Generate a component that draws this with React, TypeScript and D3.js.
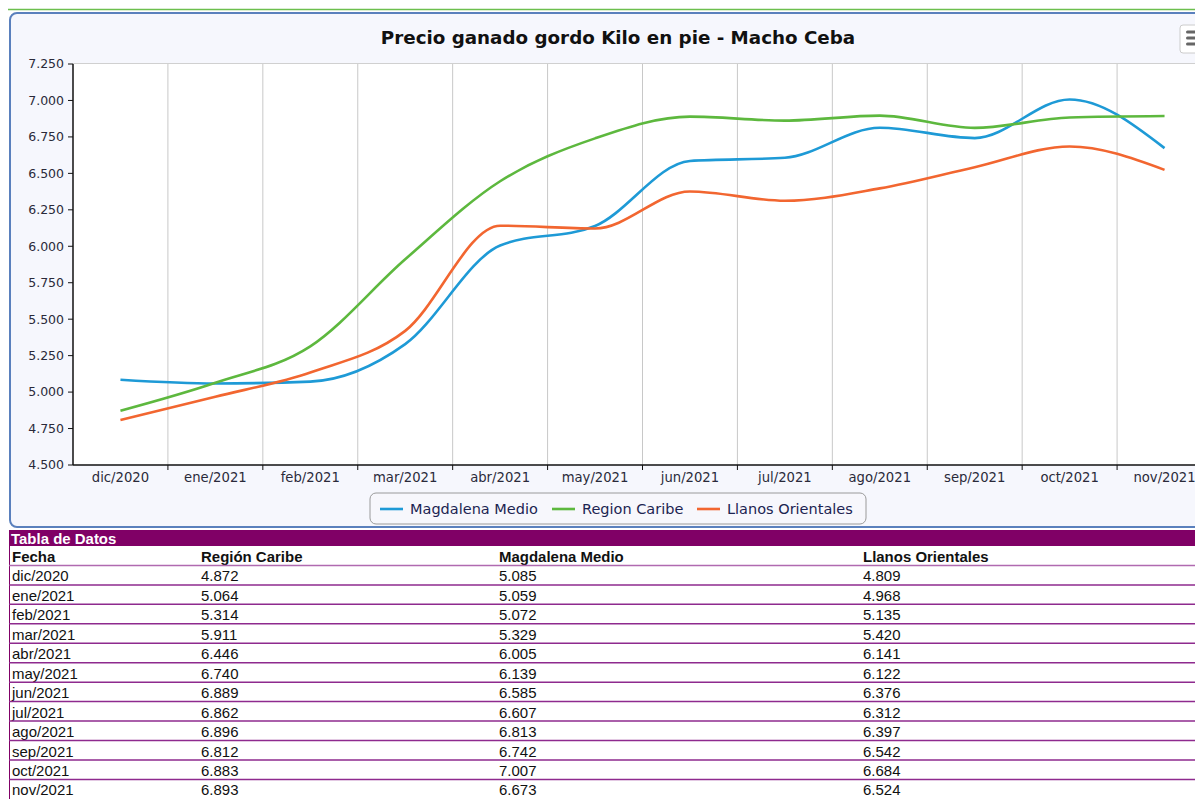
import * as d3 from "d3";

const months = [
  "dic/2020", "ene/2021", "feb/2021", "mar/2021", "abr/2021", "may/2021",
  "jun/2021", "jul/2021", "ago/2021", "sep/2021", "oct/2021", "nov/2021",
];
const regionCaribe = [4.872, 5.064, 5.314, 5.911, 6.446, 6.74, 6.889, 6.862, 6.896, 6.812, 6.883, 6.893];
const magdalenaMedio = [5.085, 5.059, 5.072, 5.329, 6.005, 6.139, 6.585, 6.607, 6.813, 6.742, 7.007, 6.673];
const llanosOrientales = [4.809, 4.968, 5.135, 5.42, 6.141, 6.122, 6.376, 6.312, 6.397, 6.542, 6.684, 6.524];
const yTicks = [4.5, 4.75, 5, 5.25, 5.5, 5.75, 6, 6.25, 6.5, 6.75, 7, 7.25];

const series = [
  { name: "Magdalena Medio", values: magdalenaMedio, color: "#1e9ad6" },
  { name: "Region Caribe", values: regionCaribe, color: "#5db83e" },
  { name: "Llanos Orientales", values: llanosOrientales, color: "#f26630" },
];

const tableCols = [
  { title: "Fecha", x: 12 },
  { title: "Región Caribe", x: 201, values: regionCaribe },
  { title: "Magdalena Medio", x: 499, values: magdalenaMedio },
  { title: "Llanos Orientales", x: 863, values: llanosOrientales },
];

const W = 1195;
const H = 799;
const plot = { left: 73, right: 1212, top: 64, bottom: 465 };
const axisFont = "DejaVu Sans, Verdana, sans-serif";
const tableFont = "Liberation Sans, Arial, sans-serif";

// table text in the source is a bit wide for its height
const TableText = ({ x, y, bold, fill = "#111", children }: any) => (
  <text
    transform={`translate(${x},${y}) scale(1.07,1)`}
    fontFamily={tableFont}
    fontWeight={bold ? "bold" : "normal"}
    fontSize={14}
    fill={fill}
  >
    {children}
  </text>
);

export default function App() {
  const x = d3.scaleBand<string>().domain(months).range([plot.left, plot.right]);
  const y = d3.scaleLinear().domain([4.5, 7.25]).range([plot.bottom, plot.top]);
  const fmt = d3.format(".3f");
  const line = d3
    .line<number>()
    .x((_, i) => (x(months[i]) ?? 0) + x.bandwidth() / 2)
    .y((d) => y(d))
    .curve(d3.curveMonotoneX);

  const rowTop = 546;
  const rowH = 19.45;
  const legendItems = [380, 552, 697];

  return (
    <svg
      width={W}
      height={H}
      style={{ position: "absolute", left: 0, top: 0, background: "#fff" }}
    >
      {/* top strip + panel */}
      <line x1={8} x2={W} y1={9.5} y2={9.5} stroke="#6cbf4e" strokeWidth={1.5} />
      <rect x={10} y={13} width={W + 20} height={514} rx={7} fill="#f6f7fd" stroke="#5a80bd" strokeWidth={2} />

      <text x={618} y={44} textAnchor="middle" fontFamily={axisFont} fontWeight="bold" fontSize={18.3} fill="#111">
        Precio ganado gordo Kilo en pie - Macho Ceba
      </text>

      {/* menu button */}
      <rect x={1180} y={25} width={26} height={28} rx={3} fill="#fff" stroke="#ccc" />
      {[32, 38, 44].map((yy) => (
        <rect key={yy} x={1186} y={yy - 1.5} width={12} height={3} rx={1.5} fill="#666" />
      ))}

      {/* plot area */}
      <rect x={plot.left} y={plot.top} width={plot.right - plot.left} height={plot.bottom - plot.top} fill="#fff" />
      <line x1={plot.left} x2={plot.right} y1={plot.top - 0.5} y2={plot.top - 0.5} stroke="#d0d0d0" />
      {months.slice(1).map((m) => (
        <line key={m} x1={x(m)} x2={x(m)} y1={plot.top} y2={plot.bottom} stroke="#c8c8c8" />
      ))}

      {/* y axis */}
      <line x1={plot.left} x2={plot.left} y1={plot.top} y2={plot.bottom} stroke="#111" strokeWidth={1.5} />
      {yTicks.map((t) => (
        <g key={t}>
          <line x1={plot.left - 5} x2={plot.left} y1={y(t)} y2={y(t)} stroke="#111" />
          <text x={plot.left - 9} y={y(t)} dy="0.35em" textAnchor="end" fontFamily={axisFont} fontSize={12.5} fill="#2a2a3a">
            {fmt(t)}
          </text>
        </g>
      ))}

      {/* x axis */}
      <line x1={plot.left} x2={plot.right} y1={plot.bottom} y2={plot.bottom} stroke="#111" strokeWidth={1.5} />
      {months.map((m, i) => (
        <g key={m}>
          {i > 0 && <line x1={x(m)} x2={x(m)} y1={plot.bottom} y2={plot.bottom + 5} stroke="#111" />}
          <text x={(x(m) ?? 0) + x.bandwidth() / 2} y={482} textAnchor="middle" fontFamily={axisFont} fontSize={13.2} fill="#2a2a3a">
            {m}
          </text>
        </g>
      ))}

      {/* series */}
      {series.map((s) => (
        <path key={s.name} d={line(s.values) ?? ""} fill="none" stroke={s.color} strokeWidth={2.6} />
      ))}

      {/* legend */}
      <rect x={370} y={493} width={496} height={31} rx={6} fill="#f7f7fc" stroke="#9a9a9a" />
      {series.map((s, i) => (
        <g key={s.name}>
          <line x1={legendItems[i]} x2={legendItems[i] + 23} y1={509} y2={509} stroke={s.color} strokeWidth={2.6} />
          <text x={legendItems[i] + 30} y={514} fontFamily={axisFont} fontSize={14.5} fill="#1c2452">
            {s.name}
          </text>
        </g>
      ))}

      {/* data table */}
      <rect x={9} y={530} width={W} height={16} fill="#800066" />
      <TableText x={11} y={543.5} bold fill="#fff">
        Tabla de Datos
      </TableText>
      <line x1={9.5} x2={9.5} y1={546} y2={H} stroke="#800066" />
      {tableCols.map((c) => (
        <TableText key={c.title} x={c.x} y={rowTop + 16} bold>
          {c.title}
        </TableText>
      ))}
      {months.map((m, i) => {
        const top = rowTop + rowH * (i + 1);
        return (
          <g key={m}>
            <line x1={9} x2={W} y1={top} y2={top} stroke={i === 0 ? "#b06ab0" : "#8e2a8e"} strokeWidth={1.5} />
            {tableCols.map((c) => (
              <TableText key={c.title} x={c.x} y={top + 16}>
                {c.values ? fmt(c.values[i]) : m}
              </TableText>
            ))}
          </g>
        );
      })}
    </svg>
  );
}
